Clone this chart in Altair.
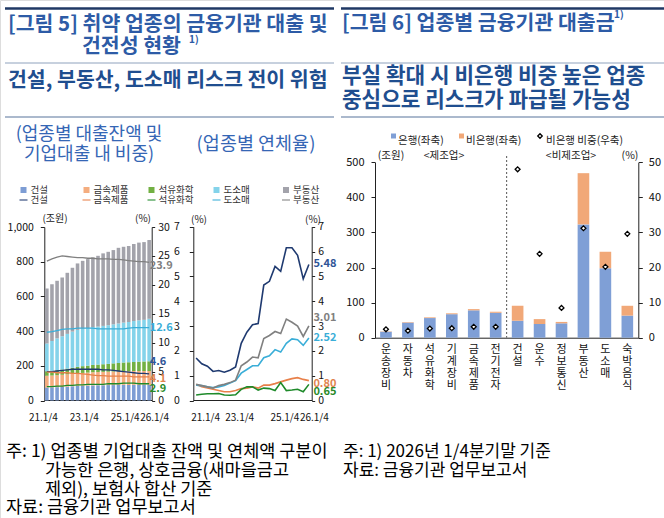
import altair as alt
import pandas as pd

FONT = "Noto Sans CJK KR"
NUMFONT = "Liberation Sans Narrow, Noto Sans CJK KR"

# ---------------- data: figure 5 ----------------
quarters = [f"{y}.{q}/4" for y in range(21, 27) for q in range(1, 5)][:21]
tick_quarters = ["21.1/4", "23.1/4", "25.1/4"]
last_tick = ["26.1/4"]
industries = ["건설", "금속제품", "석유화학", "도소매", "부동산"]

# loan balance (trillion won), stacked bars
bal_construction = [75, 76, 77, 78, 80, 82, 84, 85, 86, 87, 88, 88, 89, 89, 90, 90, 90, 90, 90, 90, 90]
bal_metal = [68, 68, 69, 70, 71, 72, 73, 74, 75, 76, 76, 77, 77, 78, 78, 79, 79, 80, 80, 80, 80]
bal_petro = [25, 27, 29, 31, 33, 35, 37, 39, 40, 42, 43, 44, 45, 47, 48, 50, 51, 52, 54, 55, 56]
bal_retail = [160, 172, 183, 192, 200, 208, 213, 215, 217, 218, 219, 221, 223, 225, 228, 230, 233, 236, 238, 240, 245]
bal_realestate = [318, 327, 332, 338, 352, 368, 383, 392, 397, 402, 408, 418, 423, 428, 436, 437, 437, 444, 448, 448, 454]

# share in corporate loans (%), lines
sh_construction = [5.0, 5.0, 5.1, 5.2, 5.3, 5.4, 5.4, 5.4, 5.4, 5.4, 5.4, 5.3, 5.3, 5.2, 5.1, 5.0, 4.9, 4.8, 4.7, 4.7, 4.6]
sh_metal = [4.9, 4.9, 4.8, 4.8, 4.8, 4.7, 4.7, 4.6, 4.5, 4.4, 4.3, 4.3, 4.2, 4.2, 4.2, 4.2, 4.2, 4.1, 4.1, 4.1, 4.1]
sh_petro = [2.4, 2.4, 2.5, 2.5, 2.6, 2.6, 2.7, 2.7, 2.8, 2.8, 2.8, 2.8, 2.9, 2.9, 2.9, 3.0, 3.0, 3.0, 2.9, 2.9, 2.9]
sh_retail = [11.8, 11.9, 12.1, 12.3, 12.4, 12.4, 12.5, 12.5, 12.5, 12.5, 12.4, 12.4, 12.4, 12.4, 12.4, 12.4, 12.5, 12.6, 12.6, 12.6, 12.6]
sh_realestate = [24.1, 24.5, 24.8, 25.0, 24.9, 24.8, 24.7, 24.7, 24.6, 24.6, 24.5, 24.5, 24.5, 24.4, 24.4, 24.3, 24.2, 24.1, 24.0, 24.0, 23.9]

# delinquency rate (%)
dq_construction = [1.71, 1.48, 1.38, 1.17, 1.21, 1.14, 1.22, 1.35, 2.30, 2.75, 3.05, 3.10, 4.65, 4.80, 5.40, 5.20, 6.15, 6.15, 5.85, 4.90, 5.48]
dq_metal = [0.65, 0.55, 0.50, 0.45, 0.40, 0.35, 0.35, 0.40, 0.48, 0.50, 0.55, 0.50, 0.62, 0.62, 0.68, 0.75, 0.82, 0.88, 0.92, 0.85, 0.80]
dq_petro = [0.22, 0.25, 0.27, 0.27, 0.28, 0.22, 0.21, 0.23, 0.45, 0.55, 0.55, 0.42, 0.50, 0.48, 0.40, 0.72, 0.40, 0.42, 0.45, 0.35, 0.65]
dq_retail = [0.62, 0.60, 0.55, 0.52, 0.55, 0.60, 0.70, 0.80, 1.10, 1.25, 1.40, 1.40, 1.72, 1.80, 2.05, 1.95, 2.30, 2.48, 2.45, 2.22, 2.52]
dq_realestate = [0.65, 0.60, 0.55, 0.50, 0.60, 0.65, 0.72, 0.82, 1.40, 1.55, 1.75, 1.72, 2.50, 2.62, 2.78, 2.70, 3.28, 3.15, 3.00, 2.58, 3.01]

# ---------------- data: figure 6 ----------------
fig6_categories = ["운송장비", "자동차", "석유화학", "기계장비", "금속제품", "전기전자",
                   "건설", "운수", "정보통신", "부동산", "도소매", "숙박 음식"]
fig6_bank = [17, 43, 56, 67, 78, 71, 48, 39, 41, 323, 198, 63]
fig6_nonbank = [1, 1.5, 2, 2.5, 3.5, 3, 43, 14, 4, 146, 47, 28]
fig6_nonbank_share = [2.4, 2.0, 2.6, 2.7, 3.1, 3.1, 48.0, 23.9, 8.5, 31.2, 20.2, 29.6]
n_manufacturing = 6

# ---------------- styles ----------------
BAR_COLORS = ["#7d9dd4", "#f4ad7f", "#72b043", "#84d3ea", "#a3a3ab"]
LINE_COLORS = ["#1f3a70", "#e8804a", "#1e8a2a", "#3aaed8", "#808080"]
LABEL_COLORS = ["#2f5597", "#e0844f", "#2a8a2a", "#3aaed8", "#7f7f7f"]
BANK_COLORS = ["#7f9fd6", "#f1a878"]
TITLE_BLUE = "#2d5ba6"
HEAD_BLUE = "#1f4e8f"
SUB_BLUE = "#3566b5"
RULE_NAVY = "#1f3864"
RULE_GREY = "#8fa2bd"

W, H = 664, 518
ONE = alt.Data(values=[{}])


def txt(s, x, y, size, color="#000", align="left", weight="normal", baseline="middle", font=FONT):
    return alt.Chart(ONE).mark_text(
        text=s, fontSize=size, color=color, align=align, baseline=baseline,
        font=font, fontWeight=weight
    ).encode(x=alt.value(x), y=alt.value(y))


def hline(x1, x2, y, color, width):
    return alt.Chart(ONE).mark_rule(color=color, strokeWidth=width).encode(
        x=alt.value(x1), x2=alt.value(x2), y=alt.value(y))


def ax(**kw):
    base = dict(title=None, grid=False, labelFont=FONT, labelColor="#111",
                domainColor="#222", tickColor="#222", labelFontSize=10.5)
    base.update(kw)
    return alt.Axis(**base)


layers = []

# ---------------- headers ----------------
TS = 20.5
layers += [
    hline(5, 334, 8.5, RULE_NAVY, 2.5),
    hline(341, 664, 8.5, RULE_NAVY, 2.5),
    txt("[그림 5] 취약 업종의 금융기관 대출 및", 8, 25, TS, TITLE_BLUE, weight="bold"),
    txt("건전성 현황", 82, 47, TS, TITLE_BLUE, weight="bold"),
    txt("1)", 189, 40, 10, TITLE_BLUE, weight="bold"),
    txt("[그림 6] 업종별 금융기관 대출금", 342, 23.5, TS, TITLE_BLUE, weight="bold"),
    txt("1)", 614, 15, 10, TITLE_BLUE, weight="bold"),
    hline(5, 334, 63, RULE_GREY, 1),
    hline(341, 664, 63, RULE_GREY, 1),
    txt("건설, 부동산, 도소매 리스크 전이 위험", 8, 81, TS, HEAD_BLUE, weight="bold"),
    txt("부실 확대 시 비은행 비중 높은 업종", 342, 77, 21.3, HEAD_BLUE, weight="bold"),
    txt("중심으로 리스크가 파급될 가능성", 342, 101, 21.3, HEAD_BLUE, weight="bold"),
    hline(5, 334, 117, RULE_GREY, 1.5),
    hline(341, 664, 117, RULE_GREY, 1.5),
    txt("(업종별 대출잔액 및", 89, 135, 18, SUB_BLUE, align="center"),
    txt("기업대출 내 비중)", 89, 155, 18, SUB_BLUE, align="center"),
    txt("(업종별 연체율)", 256, 144, 18.5, SUB_BLUE, align="center"),
]

# legend for figure 5 (two rows: bars, lines)
leg_x = [20.5, 83.5, 148.5, 213.5, 283]
for name, xx, bc, lc in zip(industries, leg_x, BAR_COLORS, LINE_COLORS):
    layers.append(alt.Chart(ONE).mark_square(size=36, color=bc, opacity=1).encode(
        x=alt.value(xx + 3), y=alt.value(190)))
    layers.append(alt.Chart(ONE).mark_point(shape="stroke", size=64, color=lc, strokeWidth=1.5).encode(
        x=alt.value(xx + 3), y=alt.value(200)))
    layers.append(txt(name, xx + 10, 190, 9.5, "#333"))
    layers.append(txt(name, xx + 10, 200, 9.5, "#333"))

# ---------------- figure 5 left: balances + shares ----------------
bal = dict(zip(industries, [bal_construction, bal_metal, bal_petro, bal_retail, bal_realestate]))
shr = dict(zip(industries, [sh_construction, sh_metal, sh_petro, sh_retail, sh_realestate]))
dq = dict(zip(industries, [dq_construction, dq_metal, dq_petro, dq_retail, dq_realestate]))

df_bal = pd.DataFrame([{"q": q, "ind": ind, "v": v, "o": k}
                       for k, ind in enumerate(industries) for q, v in zip(quarters, bal[ind])])
df_shr = pd.DataFrame([{"q": q, "ind": ind, "v": v}
                       for ind in industries for q, v in zip(quarters, shr[ind])])
df_dq = pd.DataFrame([{"q": q, "ind": ind, "v": v}
                      for ind in industries for q, v in zip(quarters, dq[ind])])

R1 = [44.3, 151.7]
Y1 = [400.5, 227]
R2 = [193.3, 311.7]
Y2 = [400.5, 226.7]
XLAB = 10
XPAD = 12

bars1 = alt.Chart(df_bal).mark_bar().encode(
    x=alt.X("q:N", sort=None,
            scale=alt.Scale(domain=quarters, range=R1, paddingInner=0.3, paddingOuter=0.15),
            axis=ax(orient="bottom", offset=400 - H, values=tick_quarters, labelAngle=0,
                    ticks=False, labelPadding=XPAD, labelOverlap=False, labelOffset=-3.5,
                    labelFontSize=XLAB, labelFont=NUMFONT)),
    y=alt.Y("v:Q", stack="zero",
            scale=alt.Scale(domain=[0, 1000], range=Y1, nice=False),
            axis=ax(orient="left", offset=-R1[0], values=[0, 200, 400, 600, 800, 1000],
                    format=",.0f", tickSize=4, labelPadding=7)),
    color=alt.Color("ind:N", scale=alt.Scale(domain=industries, range=BAR_COLORS), legend=None),
    order=alt.Order("o:Q"),
)
layers.append(bars1)

lines1 = alt.Chart(df_shr).mark_line(strokeWidth=1.3).encode(
    x=alt.X("q:N", sort=None, scale=alt.Scale(type="point", domain=quarters, range=R1, padding=0.5),
            axis=ax(orient="bottom", offset=400 - H, values=last_tick, labelAngle=0, domain=False,
                    ticks=False, labelPadding=XPAD, labelOverlap=False, labelOffset=5,
                    labelFontSize=XLAB, labelFont=NUMFONT)),
    y=alt.Y("v:Q", scale=alt.Scale(domain=[0, 30], range=Y1, nice=False),
            axis=ax(orient="right", offset=R1[1] - W, values=[0, 5, 10, 15, 20, 25, 30],
                    tickSize=3, labelPadding=3)),
    color=alt.Color("ind:N", scale=alt.Scale(domain=industries, range=LINE_COLORS), legend=None),
)
layers.append(lines1)

end_dy1 = {"건설": -12, "금속제품": 2, "석유화학": 5, "도소매": 0, "부동산": 4}
for ind, col in zip(industries, LABEL_COLORS):
    d = pd.DataFrame([{"q": quarters[-1], "v": shr[ind][-1], "t": f"{shr[ind][-1]:.1f}"}])
    layers.append(alt.Chart(d).mark_text(align="left", dx=0.5, dy=end_dy1[ind],
                                          fontSize=11, font=FONT, color=col, fontWeight="bold").encode(
        x=alt.X("q:N", scale=alt.Scale(type="point", domain=quarters, range=R1, padding=0.5), axis=None),
        y=alt.Y("v:Q", scale=alt.Scale(domain=[0, 30], range=Y1, nice=False), axis=None),
        text="t:N"))

layers += [
    txt("(조원)", 55, 219, 10, "#222", align="center"),
    txt("(%)", 143, 219, 10, "#222", align="center"),
]

# ---------------- figure 5 right: delinquency ----------------
lines2 = alt.Chart(df_dq).mark_line(strokeWidth=1.6).encode(
    x=alt.X("q:N", sort=None, scale=alt.Scale(type="point", domain=quarters, range=R2, padding=0.5),
            axis=ax(orient="bottom", offset=400 - H, values=tick_quarters, labelAngle=0,
                    ticks=False, labelPadding=XPAD, labelOverlap=False, labelFontSize=XLAB,
                    labelFont=NUMFONT,
                    labelOffset={"condition": {"test": "datum.value == '21.1/4'", "value": 9},
                                 "value": -2})),
    y=alt.Y("v:Q", scale=alt.Scale(domain=[0, 7], range=Y2, nice=False),
            axis=ax(orient="left", offset=-R2[0], values=list(range(8)), tickSize=4, labelPadding=10)),
    color=alt.Color("ind:N", scale=alt.Scale(domain=industries, range=LINE_COLORS), legend=None),
)
layers.append(lines2)

end_dy2 = {"건설": 0, "금속제품": 3, "석유화학": 8, "도소매": 0, "부동산": -8}
first = True
for ind, col in zip(industries, LABEL_COLORS):
    d = pd.DataFrame([{"q": quarters[-1], "v": dq[ind][-1], "t": f"{dq[ind][-1]:.2f}"}])
    if first:
        xaxis = ax(orient="bottom", offset=400 - H, values=last_tick, labelAngle=0, domain=False,
                   ticks=False, labelPadding=XPAD, labelOverlap=False, labelOffset=5,
                   labelFontSize=XLAB, labelFont=NUMFONT)
        yaxis = ax(orient="right", offset=R2[1] - W, values=list(range(8)), tickSize=3,
                   labelPadding=3)
    else:
        xaxis = None
        yaxis = None
    first = False
    layers.append(alt.Chart(d).mark_text(align="left", dx=4.5, dy=end_dy2[ind],
                                          fontSize=11, font=FONT, color=col, fontWeight="bold").encode(
        x=alt.X("q:N", scale=alt.Scale(type="point", domain=quarters, range=R2, padding=0.5), axis=xaxis),
        y=alt.Y("v:Q", scale=alt.Scale(domain=[0, 7], range=Y2, nice=False), axis=yaxis),
        text="t:N"))

layers += [
    txt("(%)", 199, 220, 10, "#222", align="center"),
    txt("(%)", 313, 220, 10, "#222", align="center"),
]

# ---------------- figure 6 ----------------
R3 = [375, 638.3]
Y3 = [337.7, 162.3]
groups = ["은행", "비은행"]
df6 = pd.DataFrame(
    [{"c": c, "g": "은행", "v": b, "o": 0} for c, b in zip(fig6_categories, fig6_bank)] +
    [{"c": c, "g": "비은행", "v": n, "o": 1} for c, n in zip(fig6_categories, fig6_nonbank)])
df6s = pd.DataFrame({"c": fig6_categories, "s": fig6_nonbank_share})

bars3 = alt.Chart(df6).mark_bar().encode(
    x=alt.X("c:N", sort=None,
            scale=alt.Scale(domain=fig6_categories, range=R3, paddingInner=0.47, paddingOuter=0.235),
            axis=ax(orient="bottom", offset=Y3[0] - H, labelAngle=0, ticks=False,
                    labelExpr="split(replace(datum.label, ' ', '\u3000'), '')", labelBaseline="top",
                    labelLineHeight=12, labelFontSize=11, labelPadding=6, labelOverlap=False)),
    y=alt.Y("v:Q", stack="zero", scale=alt.Scale(domain=[0, 500], range=Y3, nice=False),
            axis=ax(orient="left", offset=-R3[0], values=[0, 100, 200, 300, 400, 500],
                    tickSize=4, labelPadding=7, labelFontSize=11)),
    color=alt.Color("g:N", scale=alt.Scale(domain=groups, range=BANK_COLORS), legend=None),
    order=alt.Order("o:Q"),
)
layers.append(bars3)

pts3 = alt.Chart(df6s).mark_point(shape="diamond", filled=True, fill="white", stroke="#000",
                                  strokeWidth=1.3, size=24, opacity=1).encode(
    x=alt.X("c:N", sort=None,
            scale=alt.Scale(type="point", domain=fig6_categories, range=R3, padding=0.5), axis=None),
    y=alt.Y("s:Q", scale=alt.Scale(domain=[0, 50], range=Y3, nice=False),
            axis=ax(orient="right", offset=R3[1] - W, values=[0, 10, 20, 30, 40, 50],
                    tickSize=4, labelPadding=6, labelFontSize=11)),
)
layers.append(pts3)

divider = alt.Chart(pd.DataFrame({"d": [n_manufacturing]})).mark_rule(
    color="#555", strokeDash=[2, 2], strokeWidth=1).encode(
    x=alt.X("d:Q", scale=alt.Scale(domain=[0, len(fig6_categories)], range=R3), axis=None),
    y=alt.value(156), y2=alt.value(Y3[0]))
layers.append(divider)

layers += [
    alt.Chart(ONE).mark_square(size=25, color=BANK_COLORS[0], opacity=1).encode(
        x=alt.value(393.5), y=alt.value(136)),
    txt("은행(좌축)", 398, 141, 10.5, "#222"),
    alt.Chart(ONE).mark_square(size=25, color=BANK_COLORS[1], opacity=1).encode(
        x=alt.value(461.5), y=alt.value(136)),
    txt("비은행(좌축)", 466, 141, 10.5, "#222"),
    alt.Chart(ONE).mark_point(shape="diamond", filled=True, fill="white", stroke="#000",
                              strokeWidth=1.3, size=20, opacity=1).encode(
        x=alt.value(540), y=alt.value(136)),
    txt("비은행 비중(우축)", 546, 141, 10.5, "#222"),
    txt("(조원)", 391, 156, 10.5, "#222", align="center"),
    txt("<제조업>", 444, 156, 10.5, "#222", align="center"),
    txt("<비제조업>", 571, 156, 10.5, "#222", align="center"),
    txt("(%)", 630, 156, 10.5, "#222", align="center"),
]

# ---------------- footnotes ----------------
FS = 17.5
layers += [
    txt("주: 1) 업종별 기업대출 잔액 및 연체액 구분이", 6, 452, FS, "#000"),
    txt("가능한 은행, 상호금융(새마을금고", 45, 471, FS, "#000"),
    txt("제외), 보험사 합산 기준", 45, 490, FS, "#000"),
    txt("자료: 금융기관 업무보고서", 6, 508, FS, "#000"),
    txt("주: 1) 2026년 1/4분기말 기준", 343, 452, 17, "#000"),
    txt("자료: 금융기관 업무보고서", 343, 471, 17, "#000"),
]

chart = alt.layer(*layers).resolve_scale(
    x="independent", y="independent", color="independent"
).properties(
    width=W, height=H, autosize=alt.AutoSizeParams(type="none"), padding=0
).configure_view(stroke=None).configure(background="white")

chart.save("out.html", embed_options={"renderer": "svg", "actions": False})
